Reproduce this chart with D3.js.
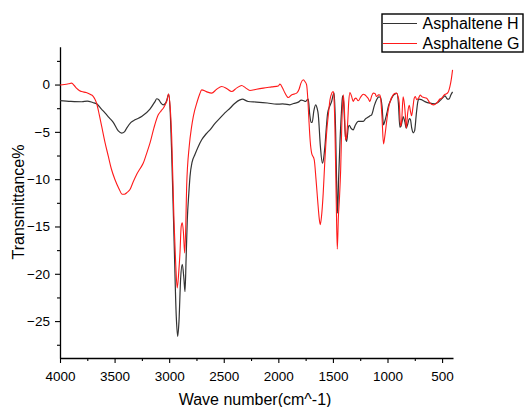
<!DOCTYPE html>
<html>
<head>
<meta charset="utf-8">
<script src="https://cdn.jsdelivr.net/npm/d3@7"></script>
<style>
  body { margin: 0; background: #fff; }
  svg { display: block; font-family: "Liberation Sans", Arial, sans-serif; }
</style>
</head>
<body>
<div id="chart"></div>
<script>
// FTIR spectra
const hWave = [4000, 3900, 3800, 3750, 3700, 3664, 3620, 3588, 3550, 3512, 3466, 3435, 3410, 3389, 3350, 3313, 3252, 3176, 3130, 3114, 3095, 3075, 3054, 3035, 3020, 3005,
  2990, 2977, 2956, 2935, 2922, 2910, 2895, 2880, 2865, 2855, 2845, 2834, 2820, 2809, 2790, 2764, 2735, 2702, 2660, 2626, 2580, 2535, 2490, 2443, 2400, 2352, 2330, 2276,
  2200, 2100, 2016, 1960, 1939, 1894, 1860, 1817, 1790, 1772, 1750, 1735, 1726, 1712, 1700, 1690, 1675, 1658, 1645, 1634, 1615, 1597, 1585, 1573, 1560, 1548, 1530, 1512,
  1495, 1488, 1475, 1465, 1457, 1448, 1435, 1420, 1412, 1405, 1385, 1374, 1360, 1350, 1335, 1314, 1295, 1268, 1245, 1222, 1200, 1176, 1160, 1145, 1120, 1100, 1080, 1065,
  1050, 1037, 1025, 1006, 990, 976, 950, 930, 914, 900, 887, 876, 866, 856, 842, 828, 815, 800, 790, 778, 765, 752, 735, 720, 710, 690, 657, 611, 566, 540, 520, 490, 474,
  460, 450, 437, 420, 404];
const hTrans = [-1.70, -1.78, -1.82, -1.75, -1.90, -2.04, -2.6, -3.0, -3.5, -4.0, -4.9, -5.13, -5.0, -4.6, -4.0, -3.73, -3.38, -2.6, -1.8, -1.5, -1.6, -1.95, -2.14, -2.0, -1.6, -1.0,
  -3.0, -7.25, -16.0, -24.5, -26.6, -25.0, -20.5, -19.0, -20.5, -21.9, -18.5, -14.3, -11.5, -9.7, -8.2, -7.4, -6.6, -5.84, -5.2, -4.78, -4.1, -3.55, -3.0, -2.5, -2.0, -1.62, -1.55, -1.79,
  -1.85, -1.95, -2.07, -2.05, -2.07, -2.14, -2.0, -1.86, -1.65, -1.69, -1.79, -1.6, -1.55, -3.2, -4.0, -4.0, -2.8, -2.14, -2.5, -3.2, -6.5, -8.3, -7.8, -6.5, -4.5, -3.0, -2.3, -1.79,
  -1.0, -0.9, -5.0, -11.0, -13.6, -10.0, -6.0, -2.5, -1.2, -1.5, -5.5, -6.0, -4.6, -4.3, -4.6, -4.78, -4.3, -3.9, -3.9, -3.9, -3.6, -3.44, -3.3, -3.2, -2.2, -1.6, -1.3, -1.35,
  -2.3, -4.26, -3.9, -3.03, -2.2, -1.8, -1.2, -1.0, -0.92, -2.0, -4.5, -4.4, -3.9, -3.38, -3.9, -4.6, -4.2, -3.6, -3.7, -4.6, -5.1, -4.9, -3.0, -1.7, -1.55, -1.6, -1.8, -1.97, -2.03, -1.9, -1.7, -1.35, -1.2,
  -1.4, -1.55, -1.55, -1.1, -0.77];

const gWave = [4000, 3960, 3920, 3893, 3870, 3847, 3820, 3802, 3760, 3720, 3700, 3680, 3664, 3640, 3618, 3590, 3557, 3530, 3496, 3460, 3430, 3410, 3385, 3359, 3330, 3298,
  3267, 3237, 3210, 3176, 3140, 3100, 3075, 3054, 3035, 3023, 3005, 2990, 2977, 2956, 2940, 2926, 2912, 2901, 2890, 2880, 2870, 2858, 2848, 2840, 2816, 2795, 2779, 2743,
  2720, 2702, 2660, 2611, 2565, 2519, 2470, 2428, 2380, 2336, 2300, 2260, 2200, 2138, 2060, 2000, 1985, 1960, 1939, 1909, 1880, 1832, 1810, 1793, 1772, 1755, 1741, 1730,
  1720, 1708, 1695, 1671, 1655, 1640, 1625, 1616, 1605, 1589, 1575, 1558, 1540, 1527, 1510, 1497, 1490, 1482, 1470, 1460, 1450, 1440, 1429, 1418, 1405, 1395, 1384, 1375,
  1365, 1355, 1344, 1330, 1314, 1300, 1289, 1268, 1245, 1222, 1205, 1191, 1175, 1161, 1145, 1131, 1115, 1100, 1082, 1069, 1060, 1050, 1037, 1025, 1006, 993, 976, 948, 930,
  917, 905, 893, 880, 870, 857, 845, 836, 828, 815, 801, 790, 779, 768, 755, 745, 732, 716, 700, 686, 672, 641, 610, 578, 550, 517, 504, 480, 465, 447, 440, 428, 415, 404];
const gTrans = [-0.04, 0.0, 0.08, 0.15, -0.1, -0.4, -0.65, -0.74, -0.85, -1.05, -1.2, -1.55, -2.0, -3.2, -4.43, -6.0, -7.6, -8.9, -10.06, -11.0, -11.6, -11.6, -11.4, -11.1, -10.3, -9.5,
  -8.9, -8.3, -7.4, -6.2, -4.6, -3.2, -2.8, -2.5, -2.1, -1.79, -1.0, -2.5, -5.5, -14.3, -19.0, -21.5, -19.8, -17.8, -15.0, -14.6, -15.5, -17.8, -15.0, -10.8, -6.5, -4.5, -3.38, -1.79,
  -1.0, -0.56, -0.75, -0.91, -0.5, -0.21, -0.45, -0.74, -0.35, -0.1, -0.35, -0.63, -0.5, -0.38, -0.25, -0.15, 0.04, -0.4, -0.9, -1.37, -1.1, -0.91, -0.5, 0.15, 0.5, 0.3, -0.03, -1.5,
  -3.73, -6.0, -7.25, -7.95, -10.0, -12.2, -14.2, -14.8, -14.0, -11.5, -8.3, -5.13, -3.0, -1.62, -0.9, -0.74, -1.5, -4.4, -12.0, -17.4, -14.0, -12.0, -9.0, -4.0, -1.09, -2.5, -5.84, -5.5,
  -4.08, -1.8, -0.84, -1.2, -1.79, -1.5, -1.44, -1.72, -1.3, -1.02, -1.1, -1.27, -1.5, -1.79, -1.2, -0.91, -0.95, -1.27, -1.09, -1.1, -1.8, -3.5, -6.27, -5.5, -3.73, -2.67, -1.8, -1.09, -0.92,
  -0.91, -1.2, -1.9, -4.4, -3.8, -1.3, -2.1, -3.3, -4.6, -3.0, -2.2, -2.8, -3.3, -2.5, -1.44, -1.27, -1.6, -1.44, -1.1, -1.27, -1.35, -1.45, -1.97, -2.15, -1.97, -1.5, -1.44, -1.1, -1.0, -0.85, -0.7, -0.2, 0.6, 1.55];

const seriesNames = ['Asphaltene H', 'Asphaltene G'];
const seriesColors = ['#333333', '#ff1a1a'];
const xMajor = [4000, 3500, 3000, 2500, 2000, 1500, 1000, 500];
const xMinor = [3750, 3250, 2750, 2250, 1750, 1250, 750];
const yMajor = [0, -5, -10, -15, -20, -25];
const yMinor = [2.5, -2.5, -7.5, -12.5, -17.5, -22.5, -27.5];

const width = 526, height = 407;
const svg = d3.select('#chart').append('svg')
    .attr('width', width)
    .attr('height', height);

const x = d3.scaleLinear().domain([4000, 400]).range([60, 453]);
const y = d3.scaleLinear().domain([4, -28.9]).range([46.7, 358]);

// Axes: bottom and left only, ticks outward
const xAxis = svg.append('g')
    .attr('transform', 'translate(0,358)')
    .call(d3.axisBottom(x).tickValues(xMajor).tickSize(5).tickSizeOuter(0).tickPadding(8.5).tickFormat(d3.format('d')));
svg.append('g')
    .attr('transform', 'translate(0,358)')
    .call(d3.axisBottom(x).tickValues(xMinor).tickSize(3).tickSizeOuter(0).tickFormat(''))
    .select('.domain').remove();

const yAxis = svg.append('g')
    .attr('transform', 'translate(60,0)')
    .call(d3.axisLeft(y).tickValues(yMajor).tickSize(5).tickSizeOuter(0).tickPadding(5).tickFormat(d3.format('d')));
svg.append('g')
    .attr('transform', 'translate(60,0)')
    .call(d3.axisLeft(y).tickValues(yMinor).tickSize(3).tickSizeOuter(0).tickFormat(''))
    .select('.domain').remove();

svg.selectAll('.domain').attr('stroke', '#000').attr('stroke-width', 1.3);
svg.selectAll('.tick line').attr('stroke', '#000').attr('stroke-width', 1.1);
svg.selectAll('.tick text')
    .attr('font-family', '"Liberation Sans", Arial, sans-serif')
    .attr('font-size', 13.5)
    .attr('fill', '#000');

// Axis titles
svg.append('text')
    .attr('x', 255)
    .attr('y', 405)
    .attr('text-anchor', 'middle')
    .attr('font-size', 16)
    .text('Wave number(cm^-1)');

svg.append('text')
    .attr('transform', 'translate(23.5,202) rotate(-90)')
    .attr('text-anchor', 'middle')
    .attr('font-size', 16)
    .text('Transmittance%');

// Spectra
const line = d3.line()
    .x(d => x(d[0]))
    .y(d => y(d[1]))
    .curve(d3.curveMonotoneX);

const hData = hWave.map((w, i) => [w, hTrans[i]]);
const gData = gWave.map((w, i) => [w, gTrans[i]]);

svg.append('path')
    .datum(hData)
    .attr('fill', 'none')
    .attr('stroke', seriesColors[0])
    .attr('stroke-width', 1.2)
    .attr('d', line);

svg.append('path')
    .datum(gData)
    .attr('fill', 'none')
    .attr('stroke', seriesColors[1])
    .attr('stroke-width', 1.1)
    .attr('d', line);

// Legend box
const legend = svg.append('g');
legend.append('rect')
    .attr('x', 382)
    .attr('y', 14)
    .attr('width', 141)
    .attr('height', 38)
    .attr('fill', '#fff')
    .attr('stroke', '#000')
    .attr('stroke-width', 1.4);

seriesNames.forEach((name, i) => {
    const ly = 23.5 + i * 20;
    legend.append('line')
        .attr('x1', 383)
        .attr('x2', 417)
        .attr('y1', ly)
        .attr('y2', ly)
        .attr('stroke', seriesColors[i])
        .attr('stroke-width', 1.2);
    legend.append('text')
        .attr('x', 422.5)
        .attr('y', ly + 5.6)
        .attr('font-size', 16)
        .text(name);
});
</script>
</body>
</html>
